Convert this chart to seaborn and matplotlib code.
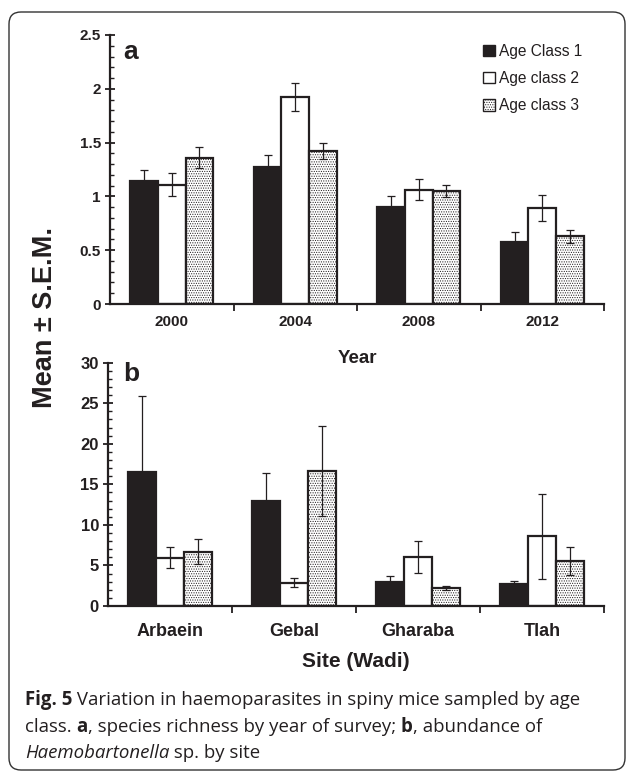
import numpy as np
import pandas as pd
import matplotlib
matplotlib.use("Agg")
import matplotlib.pyplot as plt
import seaborn as sns
from matplotlib.patches import Patch, FancyBboxPatch

# ---------------- data ----------------
years = ["2000", "2004", "2008", "2012"]
sites = ["Arbaein", "Gebal", "Gharaba", "Tlah"]
age_classes = ["Age Class 1", "Age class 2", "Age class 3"]

rich_c1 = [1.14, 1.276, 0.904, 0.576]
rich_c2 = [1.11, 1.92, 1.062, 0.892]
rich_c3 = [1.36, 1.425, 1.053, 0.629]
rich_sem_c1 = [0.105, 0.105, 0.10, 0.094]
rich_sem_c2 = [0.105, 0.13, 0.096, 0.125]
rich_sem_c3 = [0.10, 0.075, 0.056, 0.06]

abund_c1 = [16.5, 13.0, 2.92, 2.67]
abund_c2 = [5.96, 2.88, 6.0, 8.6]
abund_c3 = [6.7, 16.65, 2.26, 5.59]
abund_sem_c1 = [9.4, 3.4, 0.8, 0.4]
abund_sem_c2 = [1.27, 0.55, 1.97, 5.27]
abund_sem_c3 = [1.5, 5.55, 0.25, 1.72]

yticks_a = [0, 0.5, 1, 1.5, 2, 2.5]
yticks_b = [0, 5, 10, 15, 20, 25, 30]

# ---------------- style ----------------
sns.set_theme(style="white")
plt.rcParams["font.family"] = ["Liberation Sans", "DejaVu Sans"]
plt.rcParams["hatch.linewidth"] = 0.5
INK = "#231f20"

W, H = 627, 772
fig = plt.figure(figsize=(W / 100, H / 100), dpi=100)


def fx(px):
    return px / W


def fy(py):
    return 1 - py / H


def make_df(cats, c1, c2, c3, s1, s2, s3):
    rows = []
    for cls, vals, sems in zip(age_classes, [c1, c2, c3], [s1, s2, s3]):
        for c, v, s in zip(cats, vals, sems):
            rows.append({"cat": c, "cls": cls, "val": v, "sem": s})
    return pd.DataFrame(rows)


face = {"Age Class 1": INK, "Age class 2": "white", "Age class 3": "white"}
hatch = {"Age Class 1": None, "Age class 2": None, "Age class 3": "......."}


def draw_panel(ax, df, cats, yticks, ymax, minor_step, ytick_fs, xtick_fs, xpad):
    sns.barplot(data=df, x="cat", y="val", hue="cls", order=cats,
                hue_order=age_classes, palette=face, saturation=1,
                width=0.67, errorbar=None, edgecolor=INK, linewidth=1.6,
                legend=False, ax=ax, zorder=2)
    for cls, cont in zip(age_classes, ax.containers):
        sub = df[df["cls"] == cls].set_index("cat").loc[cats]
        xs, hs = [], []
        for p in cont.patches:
            p.set_facecolor(face[cls])
            if hatch[cls]:
                p.set_hatch(hatch[cls])
            xs.append(p.get_x() + p.get_width() / 2)
            hs.append(p.get_height())
        ax.errorbar(xs, hs, yerr=sub["sem"].values, fmt="none", ecolor=INK,
                    elinewidth=0.9, capsize=3.2, capthick=0.9, zorder=3)
    ax.set_xlim(-0.5, len(cats) - 0.5)
    ax.set_ylim(0, ymax)
    ax.set_yticks(yticks)
    ax.set_yticklabels([f"{v:g}" for v in yticks], fontweight="bold",
                       fontsize=ytick_fs, color=INK)
    ax.set_yticks(np.arange(0, ymax + 1e-9, minor_step), minor=True)
    ax.set_xticks(range(len(cats)))
    ax.set_xticklabels(cats, fontweight="bold", fontsize=xtick_fs, color=INK)
    ax.set_xticks(np.arange(0.5, len(cats), 1.0), minor=True)
    ax.tick_params(axis="y", which="major", direction="inout", length=7,
                   width=1.3, pad=3, color=INK, left=True)
    ax.tick_params(axis="y", which="minor", direction="in", length=3,
                   width=1.0, color=INK, left=True)
    ax.tick_params(axis="x", which="major", length=0, pad=xpad)
    ax.tick_params(axis="x", which="minor", direction="out", length=5,
                   width=1.3, color=INK, bottom=True)
    for s in ["top", "right"]:
        ax.spines[s].set_visible(False)
    for s in ["left", "bottom"]:
        ax.spines[s].set_linewidth(1.6)
        ax.spines[s].set_color(INK)
    ax.set_ylabel("")
    ax.grid(False)


# Panel a
ax_a = fig.add_axes([fx(110), fy(304), fx(604) - fx(110), fy(35) - fy(304)])
df_a = make_df(years, rich_c1, rich_c2, rich_c3, rich_sem_c1, rich_sem_c2, rich_sem_c3)
draw_panel(ax_a, df_a, years, yticks_a, 2.5, 0.1, 11, 11, 8)
ax_a.set_xlabel("Year", fontsize=13.5, fontweight="bold", color=INK, labelpad=15)

# Panel b
ax_b = fig.add_axes([fx(108), fy(606), fx(604) - fx(108), fy(362.7) - fy(606)])
df_b = make_df(sites, abund_c1, abund_c2, abund_c3, abund_sem_c1, abund_sem_c2, abund_sem_c3)
draw_panel(ax_b, df_b, sites, yticks_b, 30, 1, 12, 13, 12)
ax_b.set_xlabel("Site (Wadi)", fontsize=15, fontweight="bold", color=INK, labelpad=9)

# Panel letters
fig.text(fx(123), fy(59), "a", fontsize=19, fontweight="bold", color=INK, va="baseline")
fig.text(fx(123), fy(381), "b", fontsize=19, fontweight="bold", color=INK, va="baseline")

# Shared y label
fig.text(fx(45), fy(318), "Mean \u00b1 S.E.M.", rotation=90, fontsize=19.5,
         fontweight="bold", color=INK, ha="center", va="center")

# Legend
handles = [Patch(facecolor=face[c], edgecolor=INK, hatch=hatch[c], linewidth=1.0)
           for c in age_classes]
leg = ax_a.legend(handles, age_classes, loc="upper left",
                  bbox_to_anchor=(fx(483), fy(44)), bbox_transform=fig.transFigure,
                  frameon=False, fontsize=11.2, handlelength=0.75, handleheight=0.75,
                  handletextpad=0.3, borderpad=0, borderaxespad=0, labelspacing=0.78)
for t in leg.get_texts():
    t.set_color(INK)

# Rounded border
border = FancyBboxPatch((0.09, 0.02), 6.16, 7.58,
                        boxstyle="round,pad=0,rounding_size=0.12",
                        transform=fig.dpi_scale_trans, facecolor="none",
                        edgecolor="#333333", linewidth=1.0)
fig.add_artist(border)

# Caption
cap_font = ["Open Sans", "DejaVu Sans"]
cap_fs = 13.4
cap_col = "#231f20"


def chain(x_px, base_px, parts):
    renderer = fig.canvas.get_renderer()
    x = x_px
    for s, w, st in parts:
        t = fig.text(fx(x), fy(base_px), s, fontsize=cap_fs, fontweight=w,
                     style=st, color=cap_col, family=cap_font, va="baseline",
                     ha="left")
        ext = t.get_window_extent(renderer=renderer)
        x = ext.x1


chain(25, 705, [("Fig. 5", "bold", "normal"),
                (" Variation in haemoparasites in spiny mice sampled by age", "normal", "normal")])
chain(25, 731.5, [("class. ", "normal", "normal"), ("a", "bold", "normal"),
                  (", species richness by year of survey; ", "normal", "normal"),
                  ("b", "bold", "normal"), (", abundance of", "normal", "normal")])
chain(25, 758, [("Haemobartonella", "normal", "italic"),
                (" sp. by site", "normal", "normal")])

fig.savefig("out.png", dpi=100)
